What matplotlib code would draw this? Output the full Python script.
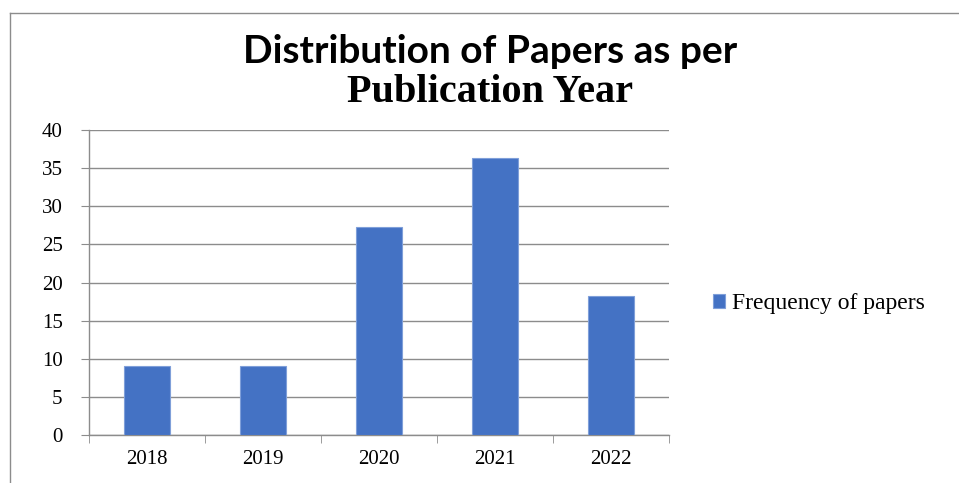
import matplotlib
matplotlib.use("Agg")
import matplotlib.pyplot as plt
from matplotlib.lines import Line2D
import numpy as np

years = ["2018", "2019", "2020", "2021", "2022"]
frequency = [9.09, 9.09, 27.27, 36.36, 18.18]
yticks = [0, 5, 10, 15, 20, 25, 30, 35, 40]

BLUE = "#4472c4"
GRID = "#8c8c8c"
serif = ["Liberation Serif", "DejaVu Serif"]

fig = plt.figure(figsize=(9.59, 4.83), dpi=100)
ax = fig.add_axes([0.0928, 0.0994, 0.6048, 0.6314])

x = np.arange(len(years))
ax.bar(x, frequency, width=0.4, color=BLUE, edgecolor="#7f9fd9", linewidth=0.8,
       label="Frequency of papers", zorder=3)
ax.set_xlim(-0.5, len(years) - 0.5)
ax.set_ylim(0, 40)
ax.set_yticks(yticks)
ax.set_yticklabels([str(v) for v in yticks], family=serif, fontsize=15)
ax.set_xticks(x)
ax.set_xticklabels(years, family=serif, fontsize=15)
ax.set_xticks(np.arange(len(years) + 1) - 0.5, minor=True)
ax.tick_params(axis="x", which="major", length=0, pad=11)
ax.tick_params(axis="x", which="minor", length=6, color=GRID, direction="out")
ax.tick_params(axis="y", length=6, color=GRID, direction="out", pad=13)
ax.grid(axis="y", color=GRID, linewidth=1.0, zorder=0)
for side in ("top", "right"):
    ax.spines[side].set_visible(False)
for side in ("left", "bottom"):
    ax.spines[side].set_color(GRID)
    ax.spines[side].set_linewidth(1.0)

ax.legend(loc="center left", bbox_to_anchor=(1.04, 0.43), frameon=False,
          prop={"family": serif, "size": 17}, handlelength=0.5, handleheight=0.5,
          handletextpad=0.3)

fig.text(0.511, 0.893, "Distribution of Papers as per", ha="center", va="center",
         family=["Lato", "DejaVu Sans"], fontweight="bold", fontsize=28)
fig.text(0.511, 0.808, "Publication Year", ha="center", va="center",
         family=serif, fontweight="bold", fontsize=29)

# outer frame lines (top and left)
fig.add_artist(Line2D([10 / 959, 1.0], [1 - 13 / 483, 1 - 13 / 483], color=GRID, lw=1.0))
fig.add_artist(Line2D([10 / 959, 10 / 959], [0.0, 1 - 13 / 483], color=GRID, lw=1.0))

fig.savefig("out.png", dpi=100)
